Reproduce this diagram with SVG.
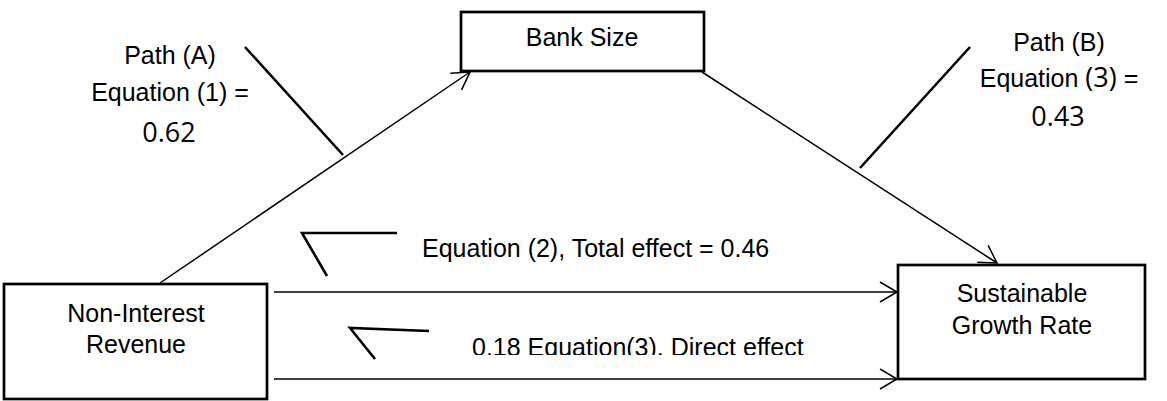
<svg xmlns="http://www.w3.org/2000/svg" width="1167" height="401" viewBox="0 0 1167 401">
<style>
.box{fill:#fff;stroke:#000;stroke-width:2.7}
.t{font-family:"Liberation Sans",Arial,sans-serif;font-size:25px;fill:#000}
.n{font-family:"Open Sans","Noto Sans",sans-serif;font-size:27px;fill:#000}
.c{fill:none;stroke:#000;stroke-width:1.5}
.m{fill:none;stroke:#000;stroke-width:2.6}
</style>
<defs>
<marker id="ah" viewBox="-19 -12 21 24" refX="0" refY="0" markerWidth="21" markerHeight="24" markerUnits="userSpaceOnUse" orient="auto">
<path d="M-17,-10 L0,0 L-17,10" fill="none" stroke="#000" stroke-width="1.5"/>
</marker>
<clipPath id="cl"><rect x="440" y="320" width="400" height="35"/></clipPath>
</defs>
<g id="connectors">
<line class="c" x1="160" y1="283" x2="470" y2="72" marker-end="url(#ah)"/>
<line class="c" x1="702" y1="72" x2="997" y2="263" marker-end="url(#ah)"/>
<line class="c" x1="274" y1="292" x2="897" y2="292" marker-end="url(#ah)"/>
<line class="c" x1="274" y1="379" x2="897" y2="379" marker-end="url(#ah)"/>
</g>
<g id="node-bank-size">
<rect class="box" x="461" y="12" width="243" height="59"/>
<text class="t" x="582" y="46" text-anchor="middle">Bank Size</text>
</g>
<g id="node-non-interest-revenue">
<rect class="box" x="4" y="284" width="263" height="115"/>
<text class="t" x="136" y="322" text-anchor="middle">Non-Interest</text>
<text class="t" x="136" y="353" text-anchor="middle">Revenue</text>
</g>
<g id="node-sustainable-growth-rate">
<rect class="box" x="898" y="265" width="247" height="114"/>
<text class="t" x="1022" y="302" text-anchor="middle">Sustainable</text>
<text class="t" x="1022" y="334" text-anchor="middle">Growth Rate</text>
</g>
<g id="label-path-a">
<line class="m" x1="245" y1="47" x2="343" y2="155"/>
<text class="t" x="170" y="64" text-anchor="middle">Path (A)</text>
<text class="t" x="170" y="101" text-anchor="middle">Equation (1) =</text>
<text class="n" x="169" y="142" text-anchor="middle">0.62</text>
</g>
<g id="label-path-b">
<line class="m" x1="970" y1="47" x2="860" y2="168"/>
<text class="t" x="1059" y="51" text-anchor="middle">Path (B)</text>
<text class="t" x="1059" y="87" text-anchor="middle">Equation <tspan font-family="Open Sans, sans-serif" font-size="27">(3)</tspan> =</text>
<text class="n" x="1058" y="126" text-anchor="middle">0.43</text>
</g>
<g id="label-total">
<polyline class="m" points="397,233 302,233 327,276"/>
<text class="t" x="422" y="257">Equation (2), Total effect = 0.46</text>
</g>
<g id="label-direct">
<polyline class="m" points="429,331 350,328 375,359"/>
<text class="t" x="472" y="356" clip-path="url(#cl)">0.18 Equation(3), Direct effect</text>
</g>
</svg>
